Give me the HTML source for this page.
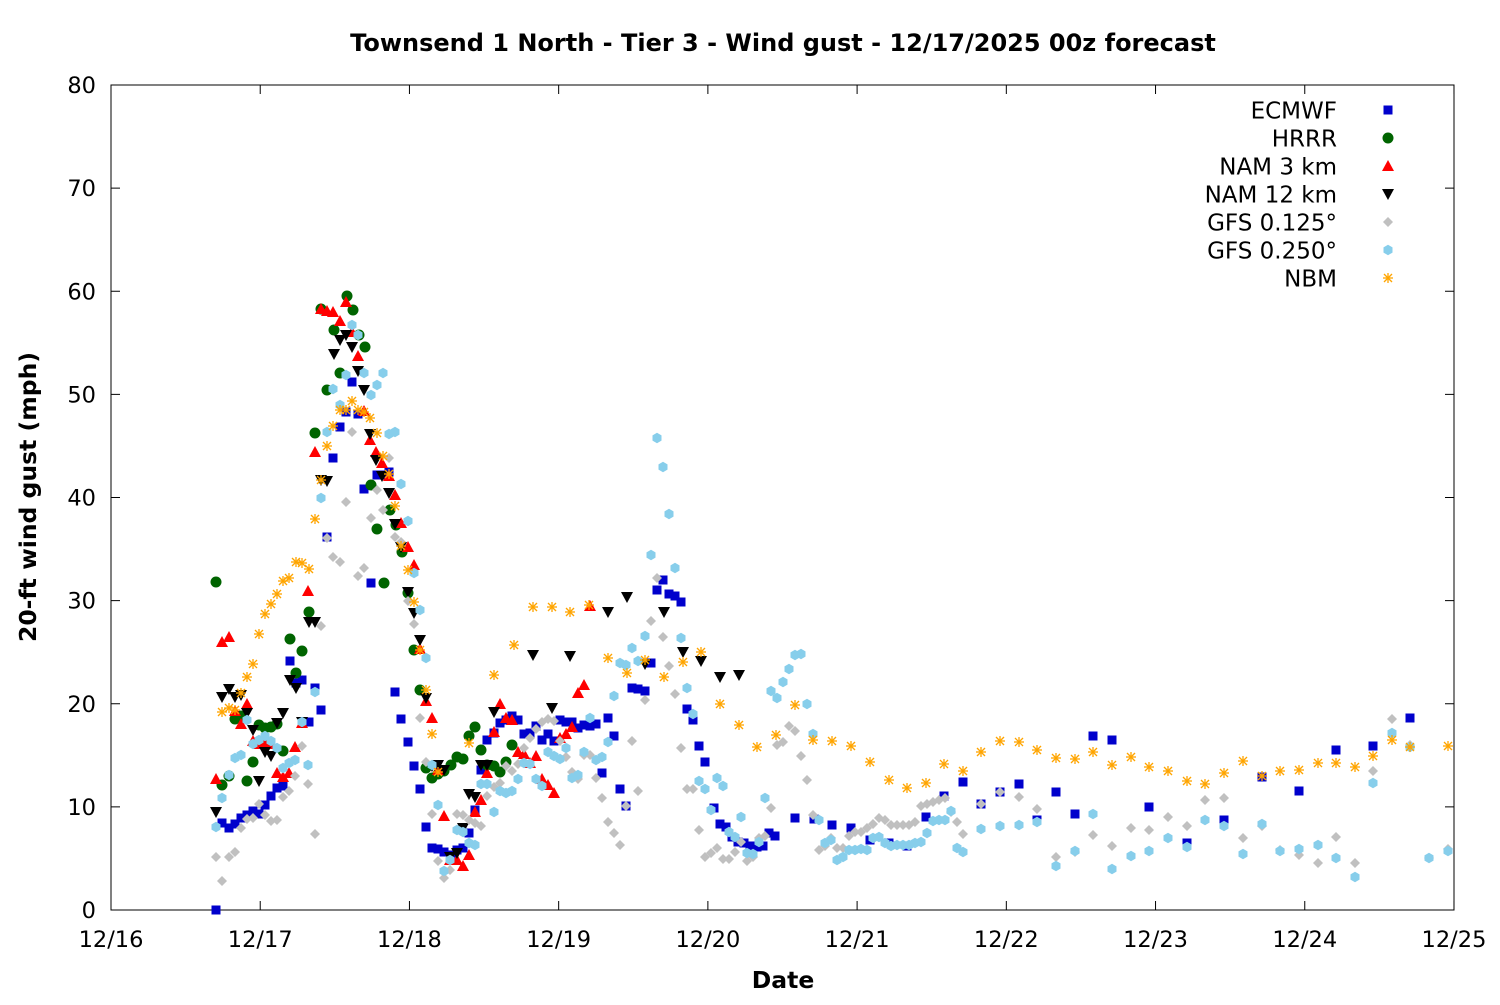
<!DOCTYPE html>
<html><head><meta charset="utf-8"><style>
html,body{margin:0;padding:0;background:#fff}
svg text{font-family:"DejaVu Sans","Liberation Sans",sans-serif}
</style></head><body>
<svg id="s" width="1500" height="1000" xmlns="http://www.w3.org/2000/svg">
<rect width="1500" height="1000" fill="#fff"/>
<text x="783" y="51" text-anchor="middle" font-size="24" font-weight="bold">Townsend 1 North - Tier 3 - Wind gust - 12/17/2025 00z forecast</text>
<text x="783" y="988" text-anchor="middle" font-size="23.5" font-weight="bold">Date</text>
<text transform="translate(36,497) rotate(-90)" text-anchor="middle" font-size="23.5" font-weight="bold">20-ft wind gust (mph)</text>
<g id="ax" stroke="#000" stroke-width="1" fill="none"></g>
<g id="lb" font-size="22.5" fill="#000"></g>
<rect x="111" y="85" width="1343" height="825" fill="none" stroke="#000" stroke-width="1"/>
<g id="pts"></g>
<g id="leg" font-size="23"></g>
</svg>
<script>
var NS="http://www.w3.org/2000/svg";
function el(p,t,a,txt){var e=document.createElementNS(NS,t);for(var k in a)e.setAttribute(k,a[k]);if(txt!=null)e.textContent=txt;p.appendChild(e);return e;}
var ax=document.getElementById('ax'),lb=document.getElementById('lb');
for(var i=0;i<=8;i++){var y=910-i*103.125;
 el(ax,'line',{x1:111,y1:y,x2:120,y2:y});el(ax,'line',{x1:1454,y1:y,x2:1445,y2:y});
 el(lb,'text',{x:96,y:y+8,'text-anchor':'end'},String(i*10));}
var dl=['12/16','12/17','12/18','12/19','12/20','12/21','12/22','12/23','12/24','12/25'];
for(var i=0;i<=9;i++){var x=111+i*149.22;
 el(ax,'line',{x1:x,y1:910,x2:x,y2:901});el(ax,'line',{x1:x,y1:85,x2:x,y2:94});
 el(lb,'text',{x:x,y:947,'text-anchor':'middle'},dl[i]);}
function P(s){var a=s.match(/-?\d+/g).map(Number),r=[];for(var i=0;i<a.length;i+=2)r.push([a[i],a[i+1]]);return r;}
var D={
ec:P("(216,910),(222,823),(229,828),(235,824),(241,818),(247,815),(253,811),(259,814),(265,805),(271,796),(277,788),(283,786),(290,661),(296,683),(302,680),(309,722),(315,688),(321,710),(327,537),(333,458),(340,427),(346,412),(352,382),(358,414),(364,489),(371,583),(377,475),(383,475),(389,472),(395,692),(401,719),(408,742),(414,766),(420,789),(426,827),(432,848),(438,849),(444,852),(451,855),(457,850),(463,848),(469,833),(475,810),(481,770),(487,740),(494,733),(500,723),(506,720),(512,716),(518,720),(524,734),(530,733),(536,726),(542,740),(548,734),(554,741),(560,720),(566,722),(572,722),(578,728),(584,725),(590,726),(596,724),(602,773),(608,718),(614,736),(620,789),(626,806),(632,688),(638,689),(645,691),(651,663),(657,590),(663,580),(669,594),(675,596),(681,602),(687,709),(693,720),(699,746),(705,762),(714,808),(720,824),(726,827),(732,837),(738,842),(744,843),(750,846),(757,847),(763,846),(769,833),(775,836),(795,818),(814,819),(832,825),(851,828),(870,840),(889,843),(907,846),(926,817),(944,796),(963,782),(981,804),(1000,792),(1019,784),(1037,820),(1056,792),(1075,814),(1093,736),(1112,740),(1149,807),(1187,843),(1224,820),(1262,777),(1299,791),(1336,750),(1373,746),(1410,718)"),
hr:P("(216,582),(222,785),(229,776),(235,719),(241,716),(247,781),(253,762),(259,725),(265,728),(271,727),(277,724),(283,751),(290,639),(296,673),(302,651),(309,612),(315,433),(321,309),(327,390),(334,330),(340,373),(347,296),(353,310),(359,335),(365,347),(371,485),(377,529),(384,583),(390,510),(396,525),(402,552),(408,593),(414,650),(420,690),(426,768),(432,778),(438,774),(444,771),(451,765),(457,757),(463,759),(469,736),(475,727),(481,750),(487,765),(494,766),(500,772),(506,762),(512,745)"),
n3:P("(216,779),(222,642),(229,637),(235,711),(241,724),(247,704),(253,741),(259,744),(265,742),(271,744),(277,773),(283,777),(289,773),(295,747),(302,723),(308,591),(315,452),(321,309),(327,311),(333,312),(340,321),(346,302),(352,332),(358,356),(364,411),(370,440),(376,452),(382,463),(389,476),(395,495),(401,523),(408,547),(414,565),(420,649),(426,701),(432,718),(438,770),(444,816),(450,860),(457,860),(463,866),(469,855),(475,812),(481,800),(487,773),(494,732),(500,704),(506,718),(512,720),(518,752),(524,754),(530,763),(536,756),(542,779),(548,785),(554,793),(560,738),(566,734),(572,727),(578,693),(584,685),(590,606)"),
n12:P("(216,812),(222,697),(229,689),(235,697),(241,695),(247,713),(253,730),(259,781),(265,752),(271,756),(277,723),(283,713),(290,680),(296,688),(302,722),(309,622),(315,622),(321,480),(327,481),(334,354),(340,340),(346,335),(352,347),(358,371),(364,390),(370,434),(376,460),(382,476),(389,493),(395,524),(401,547),(408,592),(414,613),(420,640),(426,698),(432,766),(438,765),(444,770),(450,857),(457,853),(463,828),(469,794),(475,797),(481,765),(487,765),(494,712),(533,655),(552,708),(570,656),(608,612),(627,597),(645,664),(664,612),(683,652),(701,661),(720,677),(739,675)"),
g1:P("(216,857),(222,881),(229,857),(235,852),(241,828),(247,819),(253,818),(259,804),(265,815),(271,821),(277,820),(283,797),(289,791),(295,776),(302,746),(308,784),(315,834),(321,626),(327,538),(333,557),(340,562),(346,502),(352,432),(358,576),(364,568),(371,518),(377,490),(383,510),(389,458),(395,537),(401,542),(408,601),(414,624),(420,718),(426,762),(432,814),(438,861),(444,878),(450,870),(457,814),(463,815),(469,820),(475,823),(481,826),(487,796),(494,787),(500,783),(506,766),(512,771),(518,764),(524,748),(530,738),(536,729),(542,722),(548,719),(554,721),(560,741),(566,757),(572,772),(578,779),(584,755),(590,755),(596,778),(602,798),(608,822),(614,833),(620,845),(626,806),(632,741),(638,791),(645,700),(651,621),(657,578),(663,637),(669,666),(675,694),(681,748),(687,789),(693,789),(699,830),(705,857),(711,853),(717,848),(723,859),(729,859),(735,852),(741,842),(747,861),(753,857),(759,838),(765,836),(771,808),(777,745),(783,742),(789,726),(795,731),(801,756),(807,780),(813,815),(819,850),(825,846),(831,838),(837,848),(843,848),(849,836),(855,832),(861,832),(867,828),(873,824),(879,818),(885,820),(891,825),(897,825),(903,825),(909,825),(915,822),(921,806),(927,804),(933,802),(939,800),(945,798),(951,812),(957,822),(963,834),(981,804),(1000,792),(1019,797),(1037,809),(1056,857),(1075,852),(1093,835),(1112,846),(1131,828),(1149,830),(1168,817),(1187,826),(1205,800),(1224,798),(1243,838),(1262,826),(1280,850),(1299,855),(1318,863),(1336,837),(1355,863),(1373,771),(1392,719),(1410,745),(1429,858),(1448,849)"),
g2:P("(216,827),(222,798),(229,775),(235,758),(241,755),(247,720),(253,744),(259,740),(265,736),(271,741),(277,748),(283,768),(289,763),(295,760),(302,722),(308,765),(315,692),(321,498),(327,432),(333,389),(340,405),(346,375),(352,325),(358,335),(364,373),(371,395),(377,385),(383,373),(389,434),(395,432),(401,484),(408,521),(414,573),(420,610),(426,658),(432,765),(438,805),(444,871),(450,860),(457,830),(463,832),(469,843),(475,845),(481,784),(487,784),(494,812),(500,791),(506,793),(512,791),(518,779),(524,763),(530,764),(536,779),(542,786),(548,752),(554,756),(560,759),(566,748),(572,778),(578,775),(584,752),(590,718),(596,760),(602,757),(608,742),(614,696),(620,663),(626,665),(632,648),(638,661),(645,636),(651,555),(657,438),(663,467),(669,514),(675,568),(681,638),(687,688),(693,714),(699,781),(705,789),(711,810),(717,778),(723,786),(729,832),(735,837),(741,817),(747,853),(753,854),(759,842),(765,798),(771,691),(777,698),(783,682),(789,669),(795,655),(801,654),(807,704),(813,734),(819,820),(825,843),(831,840),(837,860),(843,857),(849,850),(855,850),(861,849),(867,850),(873,838),(879,837),(885,843),(891,846),(897,845),(903,845),(909,845),(915,843),(921,842),(927,833),(933,821),(939,820),(945,820),(951,811),(957,848),(963,852),(981,829),(1000,826),(1019,825),(1037,822),(1056,866),(1075,851),(1093,814),(1112,869),(1131,856),(1149,851),(1168,838),(1187,847),(1205,820),(1224,826),(1243,854),(1262,824),(1280,851),(1299,849),(1318,845),(1336,858),(1355,877),(1373,783),(1392,733),(1410,747),(1429,858),(1448,851)"),
nb:P("(222,712),(229,708),(235,710),(241,693),(247,677),(253,664),(259,634),(265,614),(271,604),(277,594),(283,581),(289,578),(296,562),(302,563),(309,569),(315,519),(321,480),(327,446),(333,426),(340,410),(346,410),(352,401),(358,410),(364,412),(370,418),(377,433),(383,456),(389,474),(395,506),(401,546),(408,570),(414,602),(420,650),(426,690),(432,734),(438,772),(469,743),(494,675),(514,645),(533,607),(552,607),(570,612),(589,605),(608,658),(627,673),(645,660),(664,677),(683,662),(701,652),(720,704),(739,725),(757,747),(776,735),(795,705),(813,740),(832,741),(851,746),(870,762),(889,780),(907,788),(926,783),(944,764),(963,771),(981,752),(1000,741),(1019,742),(1037,750),(1056,758),(1075,759),(1093,752),(1112,765),(1131,757),(1149,767),(1168,771),(1187,781),(1205,784),(1224,773),(1243,761),(1262,776),(1280,771),(1299,770),(1318,763),(1336,763),(1355,767),(1373,756),(1392,740),(1410,747),(1448,746)")
};
function mk(g,t,x,y){
 if(t=='ec')el(g,'rect',{x:x-4.5,y:y-4.5,width:9,height:9,fill:'#0000cc'});
 else if(t=='hr')el(g,'circle',{cx:x,cy:y,r:5.5,fill:'#006400'});
 else if(t=='n3')el(g,'polygon',{points:(x)+','+(y-6)+' '+(x+6)+','+(y+5)+' '+(x-6)+','+(y+5),fill:'#ff0000'});
 else if(t=='n12')el(g,'polygon',{points:(x)+','+(y+6)+' '+(x+6)+','+(y-5)+' '+(x-6)+','+(y-5),fill:'#000'});
 else if(t=='g1')el(g,'polygon',{points:x+','+(y-5)+' '+(x+5)+','+y+' '+x+','+(y+5)+' '+(x-5)+','+y,fill:'#c0c0c0'});
 else if(t=='g2'){var p=[];for(var k=0;k<6;k++){var a=Math.PI/3*k+Math.PI/6;p.push((x+5.2*Math.cos(a)).toFixed(1)+','+(y+5.2*Math.sin(a)).toFixed(1));}el(g,'polygon',{points:p.join(' '),fill:'#87ceeb'});}
 else if(t=='nb'){var s='#ffa500';el(g,'line',{x1:x-5,y1:y,x2:x+5,y2:y,stroke:s,'stroke-width':1.3});el(g,'line',{x1:x,y1:y-5,x2:x,y2:y+5,stroke:s,'stroke-width':1.3});el(g,'line',{x1:x-4,y1:y-4,x2:x+4,y2:y+4,stroke:s,'stroke-width':1.3});el(g,'line',{x1:x-4,y1:y+4,x2:x+4,y2:y-4,stroke:s,'stroke-width':1.3});}
}
var g=document.getElementById('pts'),order=['ec','hr','n3','n12','g1','g2','nb'];
order.forEach(function(t){D[t].forEach(function(p){mk(g,t,p[0],p[1]);});});
var names=['ECMWF','HRRR','NAM 3 km','NAM 12 km','GFS 0.125°','GFS 0.250°','NBM'],lg=document.getElementById('leg');
order.forEach(function(t,i){var y=110+i*28;el(lg,'text',{x:1337,y:y+8.5,'text-anchor':'end'},names[i]);mk(lg,t,1388,y);});
</script>
</body></html>
